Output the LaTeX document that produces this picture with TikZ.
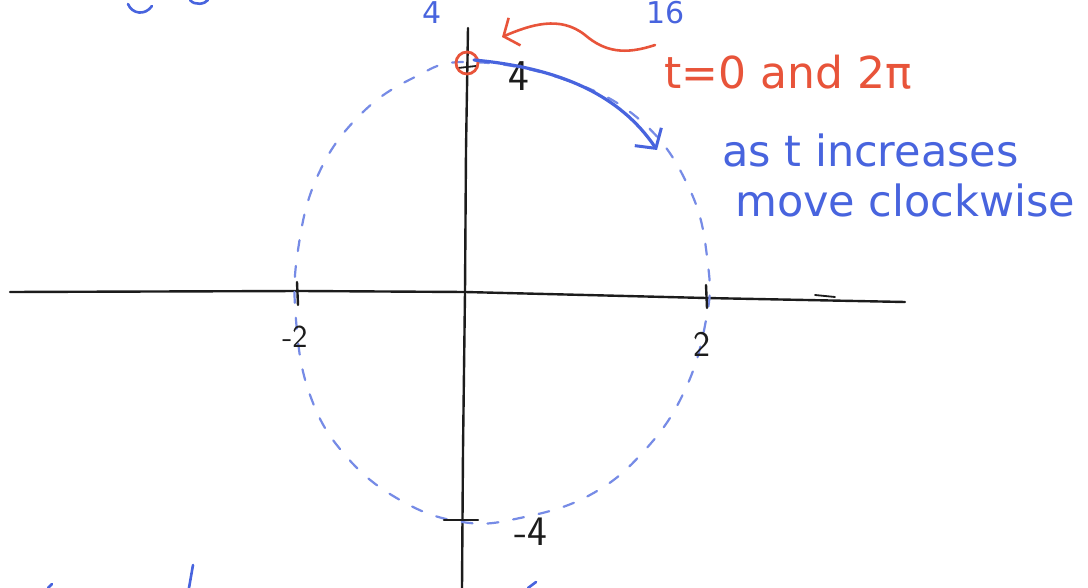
\documentclass[tikz,border=0pt]{standalone}
\usepackage{fontspec}
\newfontfamily\hand{DejaVu Sans}
\usetikzlibrary{arrows.meta}
\definecolor{pen}{RGB}{72,100,222}
\definecolor{redpen}{RGB}{232,84,58}
\definecolor{ink}{RGB}{28,28,28}
\begin{document}
\begin{tikzpicture}[x=1pt,y=-1pt,
  axis/.style={draw=ink,line width=2.4pt,line cap=round},
  ellip/.style={draw=pen!75,line width=2.2pt,dash pattern=on 11pt off 15pt,line cap=round},
  bluearrow/.style={draw=pen,line width=3.2pt,line cap=round,-{Straight Barb[length=14pt,width=32pt,line width=3pt]}},
  redarrow/.style={draw=redpen,line width=2.6pt,line cap=round,-{Straight Barb[length=12pt,width=30pt,line width=2.6pt]}},
  inklbl/.style={text=ink,font=\sffamily\fontsize{32}{32}\selectfont,inner sep=0pt},
  bluelbl/.style={text=pen,font=\hand\fontsize{43}{43}\selectfont,inner sep=0pt},
  redlbl/.style={text=redpen,font=\hand\fontsize{44}{44}\selectfont,inner sep=0pt},
  scrib/.style={draw=pen,line width=2.6pt,line cap=round}]
\useasboundingbox (0,0) rectangle (1088,588);
\clip (0,0) rectangle (1088,588);
\fill[white] (0,0) rectangle (1088,588);

% axes
\coordinate (xl) at (10,292);
\coordinate (xr) at (905,302);
\coordinate (yt) at (468,28);
\coordinate (yb) at (462,588);
\draw[axis] (xl) -- (300,291) -- (465,292) -- (706,298) -- (xr);
\draw[axis] (yt) -- (466,150) -- (465,292) -- (463,450) -- (yb);
\draw[axis,line width=1.8pt] (815,295) -- (835,297);

% dashed ellipse
\draw[ellip] plot[smooth cycle,tension=0.7] coordinates {
  (467,62) (560,78) (640,120) (690,190) (708,265) (706,320)
  (685,390) (645,450) (590,495) (520,518) (462,522)
  (400,500) (345,455) (310,395) (296,320) (298,250)
  (318,175) (360,115) (415,77)};

% ticks
\draw[axis] (297,282) -- (298,305);
\draw[axis] (706,285) -- (707,308);
\draw[axis] (444,520) -- (478,520);
\draw[axis,line width=1.8pt] (458,68) -- (476,66);

% tick labels
\node[inklbl] (lm2) at (295,337) {-2};
\node[inklbl,font=\sffamily\fontsize{36}{36}\selectfont] (lp2) at (702,344) {2};
\node[inklbl,font=\sffamily\fontsize{42}{42}\selectfont] (lm4) at (531,532) {-4};
\node[inklbl,font=\sffamily\fontsize{44}{44}\selectfont] (lp4) at (519,76) {4};

% start point
\node[draw=redpen,line width=2.8pt,circle,minimum size=22pt,inner sep=0pt] (t0) at (467,63) {};
\node[redlbl,anchor=west] (tnote) at (664,72) {t=0 and 2π};
\coordinate (rstart) at (655,45);
\draw[redarrow] (rstart) .. controls (625,55) and (605,52) .. (585,35)
  .. controls (560,15) and (530,25) .. (502,37);

% motion arrow
\coordinate (bstart) at (474,60);
\coordinate (btip) at (657,150);
\draw[bluearrow] (bstart) .. controls (560,68) and (620,95) .. (btip);

\node[bluelbl,anchor=west] (note1) at (722,150) {as t increases};
\node[bluelbl,anchor=west] (note2) at (735,200) {move clockwise};

% writing at the top edge
\node[text=pen,font=\hand\fontsize{30}{30}\selectfont,inner sep=0pt] (top4) at (432,13) {4};
\node[text=pen,font=\hand\fontsize{30}{30}\selectfont,inner sep=0pt] (top16) at (666,13) {16};
\draw[scrib] (128,4) .. controls (132,14) and (145,16) .. (152,6);
\draw[scrib] (190,0) .. controls (195,6) and (205,4) .. (208,0);
\draw[scrib] (193,565) -- (189,588);
\draw[scrib] (48,588) -- (52,584);
\draw[scrib] (528,588) -- (536,582);
\end{tikzpicture}
\end{document}
